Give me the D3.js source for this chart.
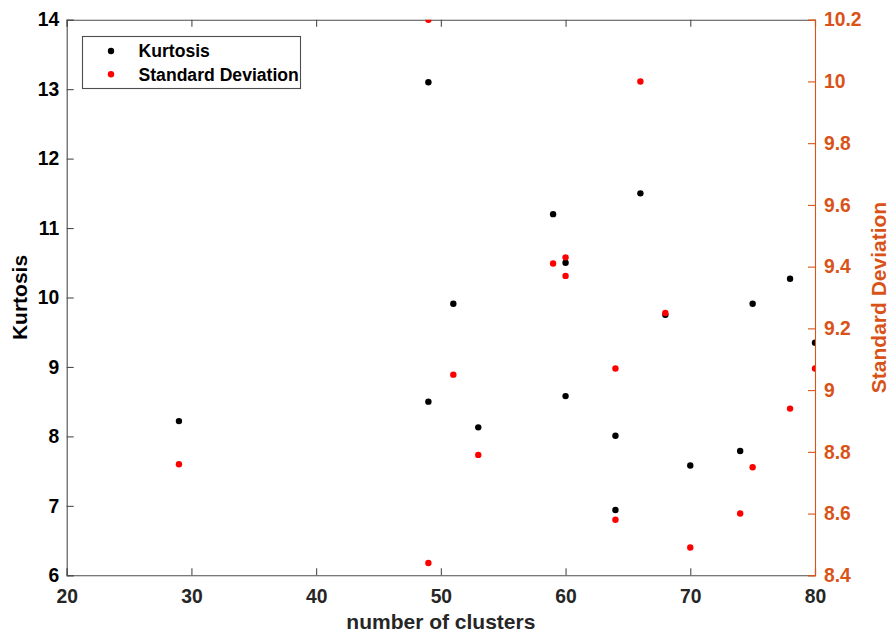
<!DOCTYPE html>
<html>
<head>
<meta charset="utf-8">
<script src="https://cdn.jsdelivr.net/npm/d3@7"></script>
<style>
  html, body { margin: 0; padding: 0; background: #fff; }
  svg { display: block; font-family: "Liberation Sans", Arial, sans-serif; font-weight: bold; }
</style>
</head>
<body>
<svg id="chart" width="891" height="633"></svg>
<script>
// Number of clusters for each run
const clusters = [29, 49, 49, 51, 53, 59, 60, 60, 64, 64, 66, 68, 70, 74, 75, 78, 80];
// Kurtosis (left axis)
const kurtosis = [8.22, 13.10, 8.50, 9.91, 8.13, 11.20, 10.50, 8.58, 8.01, 6.94, 11.50, 9.75, 7.58, 7.79, 9.91, 10.27, 9.35];
// Standard deviation (right axis)
const stdDev = [8.76, 10.20, 8.44, 9.05, 8.79, 9.41, 9.43, 9.37, 9.07, 8.58, 10.00, 9.25, 8.49, 8.60, 8.75, 8.94, 9.07];

const xTicks = [20, 30, 40, 50, 60, 70, 80];
const leftTicks = [6, 7, 8, 9, 10, 11, 12, 13, 14];
const rightTicks = [8.4, 8.6, 8.8, 9.0, 9.2, 9.4, 9.6, 9.8, 10.0, 10.2];

const seriesNames = ["Kurtosis", "Standard Deviation"];

const axisColor = "#4d4d4d";
const rightColor = "#D95319";

const plot = { left: 66.7, right: 815, top: 19.7, bottom: 575.3 };

const svg = d3.select("#chart");

const x = d3.scaleLinear().domain([20, 80]).range([plot.left, plot.right]);
const yL = d3.scaleLinear().domain([6, 14]).range([plot.bottom, plot.top]);
const yR = d3.scaleLinear().domain([8.4, 10.2]).range([plot.bottom, plot.top]);

const tickLen = 7;
const tickFont = 19.3;

// Clip region for the markers
svg.append("defs").append("clipPath").attr("id", "plotClip")
  .append("rect")
  .attr("x", plot.left).attr("y", plot.top)
  .attr("width", plot.right - plot.left).attr("height", plot.bottom - plot.top);

// Bottom axis (ticks point inward)
const xAxis = svg.append("g")
  .attr("transform", `translate(0,${plot.bottom})`)
  .call(d3.axisBottom(x).tickValues(xTicks).tickSize(-tickLen).tickPadding(14.5).tickFormat(d3.format("d")));
xAxis.selectAll("text").attr("font-size", tickFont).attr("fill", "#262626").attr("font-family", null);

// Top edge with ticks
const xTop = svg.append("g")
  .attr("transform", `translate(0,${plot.top})`)
  .call(d3.axisTop(x).tickValues(xTicks).tickSize(-tickLen).tickFormat(""));

// Left axis
const leftAxis = svg.append("g")
  .attr("transform", `translate(${plot.left},0)`)
  .call(d3.axisLeft(yL).tickValues(leftTicks).tickSize(-tickLen).tickPadding(7.5).tickFormat(d3.format("d")));
leftAxis.selectAll("text").attr("font-size", tickFont).attr("fill", "#000").attr("font-family", null);

// Right axis
const rightAxis = svg.append("g")
  .attr("transform", `translate(${plot.right},0)`)
  .call(d3.axisRight(yR).tickValues(rightTicks).tickSize(-tickLen).tickPadding(9).tickFormat(d => d3.format("")(+d.toFixed(1))));
rightAxis.selectAll("text").attr("font-size", tickFont).attr("fill", rightColor).attr("font-family", null);

[xAxis, xTop, leftAxis].forEach(g => {
  g.selectAll(".domain").attr("stroke", axisColor).attr("stroke-width", 1.1);
  g.selectAll(".tick line").attr("stroke", axisColor).attr("stroke-width", 1.1);
});
rightAxis.selectAll(".domain").attr("stroke", rightColor).attr("stroke-width", 1.1);
rightAxis.selectAll(".tick line").attr("stroke", rightColor).attr("stroke-width", 1.1);

// Axis titles
svg.append("text")
  .attr("x", (plot.left + plot.right) / 2).attr("y", 629)
  .attr("text-anchor", "middle").attr("font-size", 21).attr("fill", "#262626")
  .text("number of clusters");

svg.append("text")
  .attr("transform", `translate(27,${(plot.top + plot.bottom) / 2}) rotate(-90)`)
  .attr("text-anchor", "middle").attr("font-size", 21).attr("fill", "#000")
  .text("Kurtosis");

svg.append("text")
  .attr("transform", `translate(886,${(plot.top + plot.bottom) / 2}) rotate(-90)`)
  .attr("text-anchor", "middle").attr("font-size", 21).attr("fill", rightColor)
  .text("Standard Deviation");

// Markers
const marks = svg.append("g").attr("clip-path", "url(#plotClip)");
const r = 3.2;

marks.append("g").selectAll("circle")
  .data(clusters.map((c, i) => ({ c, v: kurtosis[i] })))
  .join("circle")
  .attr("cx", d => x(d.c)).attr("cy", d => yL(d.v)).attr("r", r)
  .attr("fill", "#000");

marks.append("g").selectAll("circle")
  .data(clusters.map((c, i) => ({ c, v: stdDev[i] })))
  .join("circle")
  .attr("cx", d => x(d.c)).attr("cy", d => yR(d.v)).attr("r", r)
  .attr("fill", "#ff0000");

// Legend
const legend = svg.append("g");
legend.append("rect")
  .attr("x", 82.5).attr("y", 36.5).attr("width", 218).attr("height", 52)
  .attr("fill", "#fff").attr("stroke", axisColor).attr("stroke-width", 1.1);

const legendColors = ["#000", "#ff0000"];
seriesNames.forEach((name, i) => {
  const cy = 51 + i * 23.3;
  legend.append("circle").attr("cx", 111).attr("cy", cy).attr("r", r).attr("fill", legendColors[i]);
  legend.append("text").attr("x", 138.5).attr("y", cy + 6.3)
    .attr("font-size", 17.6).attr("fill", "#000").text(name);
});
</script>
</body>
</html>
